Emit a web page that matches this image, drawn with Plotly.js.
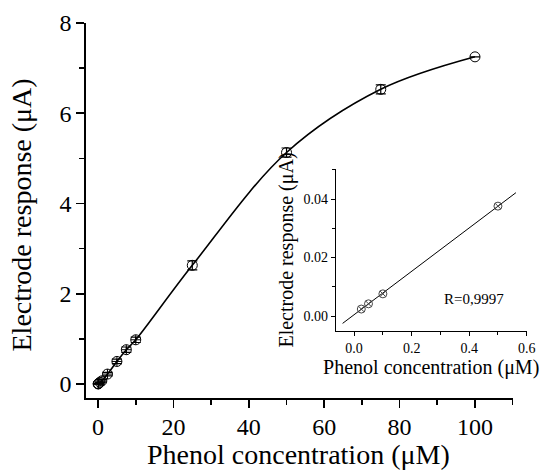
<!DOCTYPE html>
<html>
<head>
<meta charset="utf-8">
<script src="https://cdn.plot.ly/plotly-3.0.1.min.js"></script>
<style>html,body{margin:0;padding:0;background:#fff;}#chart{width:542px;height:470px;}</style>
</head>
<body>
<div id="chart"></div>
<script>
// Main calibration data (µM, µA)
const concMain = [0.025, 0.05, 0.1, 0.5, 1, 2.5, 5, 7.5, 10, 25, 50, 75, 100];
const respMain = [0.0025, 0.0043, 0.0077, 0.0375, 0.07, 0.22, 0.5, 0.76, 0.98, 2.63, 5.13, 6.53, 7.25];
const errMain  = [0, 0, 0, 0, 0.03, 0.04, 0.05, 0.06, 0.06, 0.1, 0.1, 0.1, 0];
const symMain  = ['circle-cross-open','circle-cross-open','circle-cross-open','circle-cross-open','circle-cross-open','circle-cross-open','circle-cross-open','circle-cross-open','circle-cross-open','circle-open','circle-open','circle-open','circle-open'];
// Inset (low concentration) data
const concInset = [0.025, 0.05, 0.1, 0.5];
const respInset = [0.0024, 0.0042, 0.0076, 0.0376];
// Inset regression line end points
const fitX = [-0.04, 0.5625];
const fitY = [-0.0025, 0.0422];
const rText = 'R=0,9997';
const mainXTicks = [0, 20, 40, 60, 80, 100];
const mainYTicks = [0, 2, 4, 6, 8];
const insetXTicks = [0, 0.2, 0.4, 0.6];
const insetYTicks = [0, 0.02, 0.04];
const xTitle = 'Phenol concentration (μM)';
const yTitle = 'Electrode response (μA)';

const serif = 'Liberation Serif, Times New Roman, serif';

const traces = [
  {x: concMain, y: respMain, type: 'scatter', mode: 'lines', xaxis: 'x', yaxis: 'y',
   line: {shape: 'spline', smoothing: 1, color: '#000', width: 1.6}, hoverinfo: 'skip'},
  {x: concMain, y: respMain, type: 'scatter', mode: 'markers', xaxis: 'x', yaxis: 'y',
   marker: {symbol: symMain, size: 10, color: '#000', line: {color: '#000', width: 1}},
   error_y: {type: 'data', array: errMain, visible: true, color: '#000', thickness: 1.2, width: 5}},
  {x: fitX, y: fitY, type: 'scatter', mode: 'lines', xaxis: 'x2', yaxis: 'y2',
   line: {color: '#000', width: 1}},
  {x: concInset, y: respInset, type: 'scatter', mode: 'markers', xaxis: 'x2', yaxis: 'y2',
   marker: {symbol: 'circle-x-open', size: 8, color: '#444', line: {color: '#444', width: 1}}}
];

const layout = {
  width: 542, height: 470,
  margin: {l: 86, r: 12, t: 23, b: 72},
  paper_bgcolor: '#fff', plot_bgcolor: 'rgba(0,0,0,0)',
  showlegend: false,
  font: {family: serif, color: '#000'},
  xaxis: {
    domain: [0, 0.961], range: [-3.2, 110],
    tickvals: mainXTicks, ticks: 'outside', ticklen: 8, tickwidth: 1.6, tickcolor: '#000',
    minor: {dtick: 10, tick0: 0, ticks: 'outside', ticklen: 5, tickwidth: 1.6, tickcolor: '#000'},
    showline: true, linewidth: 1.8, linecolor: '#000', showgrid: false, zeroline: false,
    tickfont: {family: serif, size: 24}, ticklabelstandoff: -2
  },
  yaxis: {
    domain: [0, 1], range: [-0.31, 8],
    tickvals: mainYTicks, ticks: 'outside', ticklen: 8, tickwidth: 1.6, tickcolor: '#000',
    minor: {dtick: 1, tick0: 0, ticks: 'outside', ticklen: 5, tickwidth: 1.6, tickcolor: '#000'},
    showline: true, linewidth: 1.8, linecolor: '#000', showgrid: false, zeroline: false,
    tickfont: {family: serif, size: 24}
  },
  xaxis2: {
    domain: [0.5624, 0.9926], range: [-0.064, 0.6], anchor: 'y2',
    tickvals: insetXTicks, tickformat: '.1f', ticks: 'outside', ticklen: 4, tickwidth: 1, tickcolor: '#000',
    minor: {dtick: 0.1, tick0: 0, ticks: 'outside', ticklen: 3, tickwidth: 1, tickcolor: '#000'},
    showline: true, linewidth: 1, linecolor: '#000', showgrid: false, zeroline: false,
    tickfont: {family: serif, size: 14},
    title: {text: xTitle, font: {family: serif, size: 20}, standoff: 4}
  },
  yaxis2: {
    domain: [0.1787, 0.6107], range: [-0.0051, 0.0503], anchor: 'x2',
    tickvals: insetYTicks, tickformat: '.2f', ticks: 'outside', ticklen: 4, tickwidth: 1, tickcolor: '#000',
    minor: {dtick: 0.01, tick0: 0, ticks: 'outside', ticklen: 3, tickwidth: 1, tickcolor: '#000'},
    showline: true, linewidth: 1, linecolor: '#000', showgrid: false, zeroline: false,
    tickfont: {family: serif, size: 14},
    title: {text: yTitle, font: {family: serif, size: 20}, standoff: 4}
  },
  annotations: [
    {text: rText, xref: 'x2', yref: 'y2', x: 0.417, y: 0.0058, showarrow: false,
     font: {family: serif, size: 15, color: '#000'}},
    {text: xTitle, xref: 'paper', yref: 'paper', x: 0.4797, y: -0.152, xanchor: 'center', yanchor: 'middle',
     showarrow: false, font: {family: serif, size: 28, color: '#000'}},
    {text: yTitle, xref: 'paper', yref: 'paper', x: -0.1453, y: 0.488, xanchor: 'center', yanchor: 'middle',
     textangle: -90, showarrow: false, font: {family: serif, size: 28, color: '#000'}}
  ]
};

Plotly.newPlot('chart', traces, layout, {displayModeBar: false, staticPlot: true});
</script>
</body>
</html>
